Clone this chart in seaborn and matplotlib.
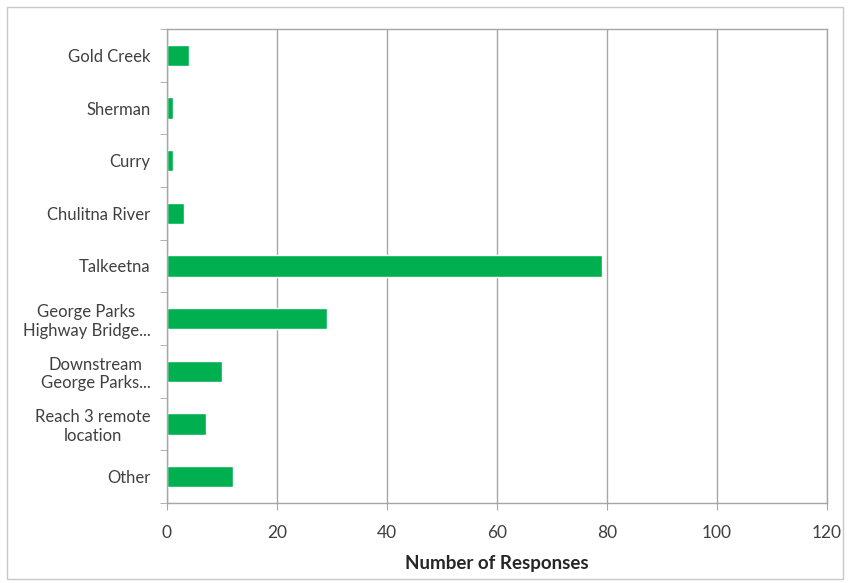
import matplotlib
matplotlib.use("Agg")
import matplotlib.pyplot as plt
import seaborn as sns
import pandas as pd
from matplotlib.patches import Rectangle

# survey responses by location
locations = [
    "Gold Creek",
    "Sherman",
    "Curry",
    "Chulitna River",
    "Talkeetna",
    "George Parks\nHighway Bridge...",
    "Downstream\nGeorge Parks...",
    "Reach 3 remote\nlocation",
    "Other",
]
responses = [4, 1, 1, 3, 79, 29, 10, 7, 12]
x_ticks = [0, 20, 40, 60, 80, 100, 120]

sns.set_style("white")
plt.rcParams["font.family"] = ["Lato", "DejaVu Sans"]

df = pd.DataFrame({"Location": locations, "Responses": responses})

fig = plt.figure(figsize=(8.5, 5.83), dpi=100)
ax = fig.add_axes([167 / 850, 1 - 503 / 583, (827 - 167) / 850, (503 - 29) / 583])

sns.barplot(data=df, y="Location", x="Responses", orient="h",
            color="#00B050", saturation=1, width=0.4, ax=ax)

ax.set_xlim(0, 120)
ax.set_ylim(len(locations) - 0.5, -0.5)
ax.set_xticks(x_ticks)
ax.set_xticklabels([str(t) for t in x_ticks], fontsize=12.5, color="#404040")
ax.xaxis.grid(True, color="#a6a6a6", linewidth=1)
ax.set_axisbelow(True)

# category tick marks sit between the bars, like Excel
ax.set_yticks(range(len(locations)))
ax.set_yticklabels(locations, fontsize=12, color="#404040", multialignment="center")
ax.set_yticks([i - 0.5 for i in range(len(locations) + 1)], minor=True)
ax.tick_params(axis="y", which="major", length=0, pad=12)
ax.tick_params(axis="y", which="minor", length=5, color="#a6a6a6", direction="out", left=True)
ax.tick_params(axis="x", which="major", length=5, color="#a6a6a6", direction="out", bottom=True, pad=11)

for side in ["top", "right", "bottom", "left"]:
    ax.spines[side].set_color("#a6a6a6")
    ax.spines[side].set_linewidth(1)

ax.set_ylabel("")
ax.set_xlabel("Number of Responses", fontsize=13.5, fontweight="bold", color="#262626", labelpad=10)

# chart area border
fig.patches.append(Rectangle((7 / 850, 4 / 583), 836 / 850, 572 / 583, transform=fig.transFigure,
                             fill=False, edgecolor="#c8c8c8", linewidth=1))

fig.savefig("out.png", dpi=100)
